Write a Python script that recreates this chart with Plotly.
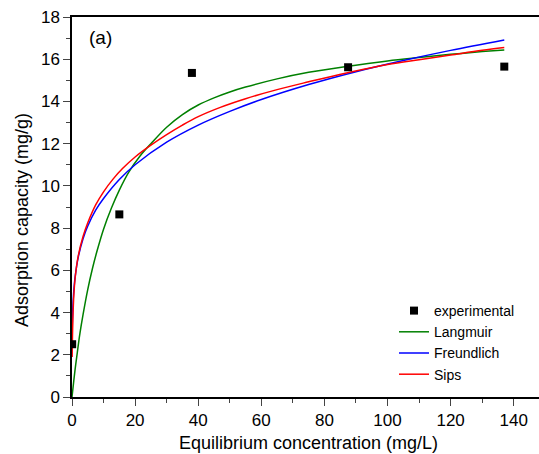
import plotly.graph_objects as go

# Experimental data
exp_c = [0.05, 15.0, 38.0, 87.5, 137.0]
exp_q = [2.5, 8.65, 15.35, 15.62, 15.65]

# Langmuir fit curve
lang_c = [0, 0.5, 1, 1.5, 2.5, 3.5, 5, 6.5, 8, 10, 12.5, 15, 18, 21.5, 25, 30, 35, 40,
          45, 50, 55, 65, 75, 87, 100, 110, 120, 130, 137]
lang_q = [0, 0.68, 1.33, 1.9, 3.0, 3.9, 5.1, 6.1, 6.95, 7.95, 8.95, 9.8, 10.65, 11.4,
          12.0, 12.78, 13.38, 13.83, 14.17, 14.45, 14.68, 15.07, 15.38, 15.66, 15.92,
          16.08, 16.23, 16.36, 16.44]

# Freundlich fit curve
freu_c = [0.07, 0.2, 0.5, 1, 2, 3.5, 5, 7.5, 10, 15, 20, 30, 40, 50, 60, 75, 90, 105,
          120, 137]
freu_q = [3.17, 4.0, 4.89, 5.7, 6.64, 7.5, 8.1, 8.85, 9.4, 10.3, 11.0, 12.07, 12.88,
          13.53, 14.09, 14.8, 15.41, 15.94, 16.42, 16.91]

# Sips fit curve
sips_c = [0.05, 0.2, 0.5, 1, 2, 3.5, 5, 7.5, 10, 13, 16, 20, 25, 30, 35, 40, 47, 55,
          65, 75, 87, 100, 110, 120, 130, 137]
sips_q = [1.9, 3.2, 4.6, 5.65, 6.7, 7.6, 8.25, 9.1, 9.72, 10.32, 10.82, 11.37, 11.93,
          12.43, 12.88, 13.28, 13.72, 14.13, 14.56, 14.93, 15.35, 15.75, 15.98, 16.2,
          16.42, 16.55]

x_ticks = [0, 20, 40, 60, 80, 100, 120, 140]
y_ticks = [0, 2, 4, 6, 8, 10, 12, 14, 16, 18]

FONT = "Arial, Liberation Sans, sans-serif"

fig = go.Figure()
fig.add_trace(go.Scatter(x=lang_c, y=lang_q, mode="lines", name="Langmuir",
                         line=dict(color="#008000", width=1.5, shape="spline",
                                   smoothing=1.0),
                         legendrank=2))
fig.add_trace(go.Scatter(x=freu_c, y=freu_q, mode="lines", name="Freundlich",
                         line=dict(color="#0000FF", width=1.5, shape="spline",
                                   smoothing=1.0),
                         legendrank=3))
fig.add_trace(go.Scatter(x=sips_c, y=sips_q, mode="lines", name="Sips",
                         line=dict(color="#FF0000", width=1.5, shape="spline",
                                   smoothing=1.0),
                         legendrank=4))
fig.add_trace(go.Scatter(x=exp_c, y=exp_q, mode="markers", name="experimental",
                         marker=dict(symbol="square", size=8, color="black"),
                         legendrank=1))

W = 539 - 72
H = 397 - 17

fig.update_layout(
    width=539, height=454,
    margin=dict(l=72, r=0, t=17, b=57, autoexpand=False),
    plot_bgcolor="white", paper_bgcolor="white",
    font=dict(family=FONT, color="black", size=17),
    showlegend=True,
    legend=dict(x=(394 - 72) / W, y=(397 - 295) / H, xanchor="left", yanchor="top",
                bgcolor="rgba(0,0,0,0)", font=dict(size=14, family=FONT),
                tracegroupgap=0),
    xaxis=dict(range=[0, 148], tickvals=x_ticks, ticks="outside", ticklen=7,
               tickwidth=1.2, showline=True, linewidth=1.5, linecolor="black",
               mirror=True, showgrid=False, zeroline=False, automargin=False,
               tickfont=dict(size=17),
               minor=dict(dtick=10, tick0=0, ticks="outside", ticklen=4,
                          tickwidth=1.2, showgrid=False)),
    yaxis=dict(range=[0, 18], tickvals=y_ticks, ticks="outside", ticklen=7,
               tickwidth=1.2, showline=True, linewidth=1.5, linecolor="black",
               showgrid=False, zeroline=False, automargin=False,
               tickfont=dict(size=17),
               minor=dict(dtick=1, tick0=0, ticks="outside", ticklen=4,
                          tickwidth=1.2, showgrid=False)),
)
fig.add_annotation(text="(a)", x=(100 - 72) / W, y=(397 - 38) / H, xref="paper",
                   yref="paper", showarrow=False, font=dict(size=19, family=FONT),
                   xanchor="center", yanchor="middle")
fig.add_annotation(text="Equilibrium concentration (mg/L)", x=(308 - 72) / W,
                   y=(397 - 443) / H, xref="paper", yref="paper", showarrow=False,
                   font=dict(size=18, family=FONT), xanchor="center",
                   yanchor="middle")
fig.add_annotation(text="Adsorption capacity (mg/g)", x=(22 - 72) / W,
                   y=(397 - 220) / H, xref="paper", yref="paper", showarrow=False,
                   textangle=-90, font=dict(size=18, family=FONT),
                   xanchor="center", yanchor="middle")

fig.write_html(
    "out.html",
    config={"displayModeBar": False},
    post_script="document.body.style.margin='0';document.body.style.padding='0';"
                "document.body.style.overflow='hidden';",
)
